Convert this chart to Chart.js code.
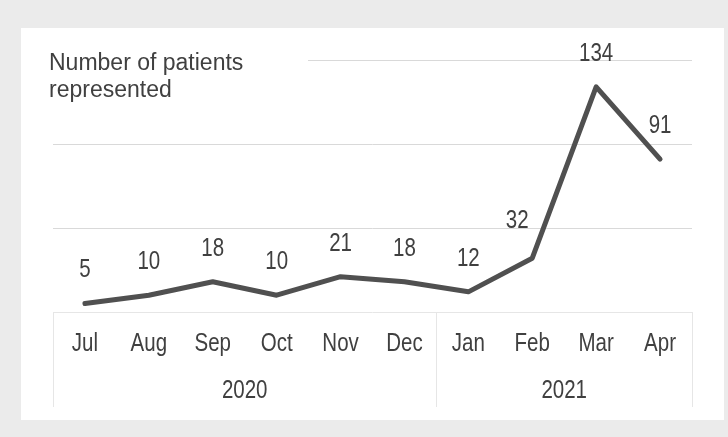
<!DOCTYPE html>
<html>
<head>
<meta charset="utf-8">
<script src="https://cdn.jsdelivr.net/npm/chart.js@4.4.1/dist/chart.umd.min.js"></script>
<style>
  html, body { margin: 0; padding: 0; background: #ebebeb; }
  #wrap { position: relative; width: 728px; height: 437px; }
</style>
</head>
<body>
<div id="wrap"><canvas id="chart"></canvas></div>
<script>
const months = ['Jul', 'Aug', 'Sep', 'Oct', 'Nov', 'Dec', 'Jan', 'Feb', 'Mar', 'Apr'];
const years = ['2020', '2021'];
const monthsPerYear = [6, 4];
const patients = [5, 10, 18, 10, 21, 18, 12, 32, 134, 91];
const titleLines = ['Number of patients', 'represented'];

const textColor = '#404040';
const gridColor = '#d9d9d9';
const axisColor = '#e6e6e6';
const labelFont = '25px "Liberation Sans", Arial, sans-serif';

// no narrow face installed, so squeeze the regular one sideways
function narrowText(ctx, text, x, y) {
  ctx.save();
  ctx.translate(x, y);
  ctx.scale(0.82, 1);
  ctx.fillText(text, 0, 0);
  ctx.restore();
}

// gray page + white panel behind everything
const panelPlugin = {
  id: 'panel',
  beforeDraw(chart) {
    const ctx = chart.ctx;
    ctx.save();
    ctx.fillStyle = '#ebebeb';
    ctx.fillRect(0, 0, chart.width, chart.height);
    ctx.fillStyle = '#ffffff';
    ctx.fillRect(21, 28, 703, 392);
    ctx.restore();
  }
};

// title, partial top gridline, month/year rows, value labels
const extrasPlugin = {
  id: 'extras',
  beforeDatasetsDraw(chart) {
    const ctx = chart.ctx;
    const area = chart.chartArea;
    const y = chart.scales.y;
    const x = chart.scales.x;
    ctx.save();
    // top gridline only right of the title
    ctx.strokeStyle = gridColor;
    ctx.lineWidth = 1;
    const yTop = Math.round(y.getPixelForValue(150)) + 0.5;
    ctx.beginPath();
    ctx.moveTo(308, yTop);
    ctx.lineTo(area.right, yTop);
    ctx.stroke();

    // title
    ctx.fillStyle = textColor;
    ctx.font = '23px "Liberation Sans", Arial, sans-serif';
    ctx.textAlign = 'left';
    ctx.textBaseline = 'alphabetic';
    titleLines.forEach((t, i) => ctx.fillText(t, 49, 70 + i * 27));

    // axis line
    ctx.strokeStyle = axisColor;
    const yBase = Math.round(area.bottom) + 0.5;
    ctx.beginPath();
    ctx.moveTo(area.left, yBase);
    ctx.lineTo(area.right, yBase);
    ctx.stroke();

    // year separators
    const step = x.getPixelForValue(1) - x.getPixelForValue(0);
    let start = 0;
    const edges = [area.left];
    monthsPerYear.forEach(n => {
      start += n;
      edges.push(start === months.length ? area.right : x.getPixelForValue(start) - step / 2);
    });
    edges.forEach(px => {
      const lx = Math.round(px) + 0.5;
      ctx.beginPath();
      ctx.moveTo(lx, area.bottom);
      ctx.lineTo(lx, 407);
      ctx.stroke();
    });

    // month and year labels
    ctx.font = labelFont;
    ctx.textAlign = 'center';
    ctx.textBaseline = 'middle';
    months.forEach((m, i) => narrowText(ctx, m, x.getPixelForValue(i), 344));
    years.forEach((yr, i) => narrowText(ctx, yr, (edges[i] + edges[i + 1]) / 2, 391));
    ctx.restore();
  },
  afterDatasetsDraw(chart) {
    const ctx = chart.ctx;
    const meta = chart.getDatasetMeta(0);
    ctx.save();
    ctx.fillStyle = textColor;
    ctx.font = labelFont;
    ctx.textAlign = 'center';
    ctx.textBaseline = 'middle';
    meta.data.forEach((pt, i) => {
      // the Feb label sits left of the steep climb
      const dx = i === 7 ? -15 : 0;
      const dy = i === 7 ? -37 : -33;
      narrowText(ctx, String(patients[i]), pt.x + dx, pt.y + dy);
    });
    ctx.restore();
  }
};

new Chart(document.getElementById('chart'), {
  type: 'line',
  data: {
    labels: months,
    datasets: [{
      data: patients,
      borderColor: '#505050',
      borderWidth: 5,
      borderCapStyle: 'round',
      borderJoinStyle: 'round',
      pointRadius: 0,
      tension: 0,
      fill: false
    }]
  },
  options: {
    responsive: true,
    maintainAspectRatio: false,
    animation: false,
    layout: { padding: { left: 53, right: 36, top: 60, bottom: 0 } },
    plugins: { legend: { display: false }, tooltip: { enabled: false } },
    scales: {
      x: {
        offset: true,
        grid: { display: false, drawTicks: false },
        border: { display: false },
        ticks: { display: false },
        afterFit(scale) { scale.height = 125; }
      },
      y: {
        min: 0,
        max: 150,
        ticks: { display: false, stepSize: 50 },
        grid: {
          drawTicks: false,
          color: ctx => (ctx.tick && (ctx.tick.value === 150 || ctx.tick.value === 0) ? 'rgba(0,0,0,0)' : gridColor)
        },
        border: { display: false },
        afterFit(scale) { scale.width = 0; }
      }
    }
  },
  plugins: [panelPlugin, extrasPlugin]
});
</script>
</body>
</html>
